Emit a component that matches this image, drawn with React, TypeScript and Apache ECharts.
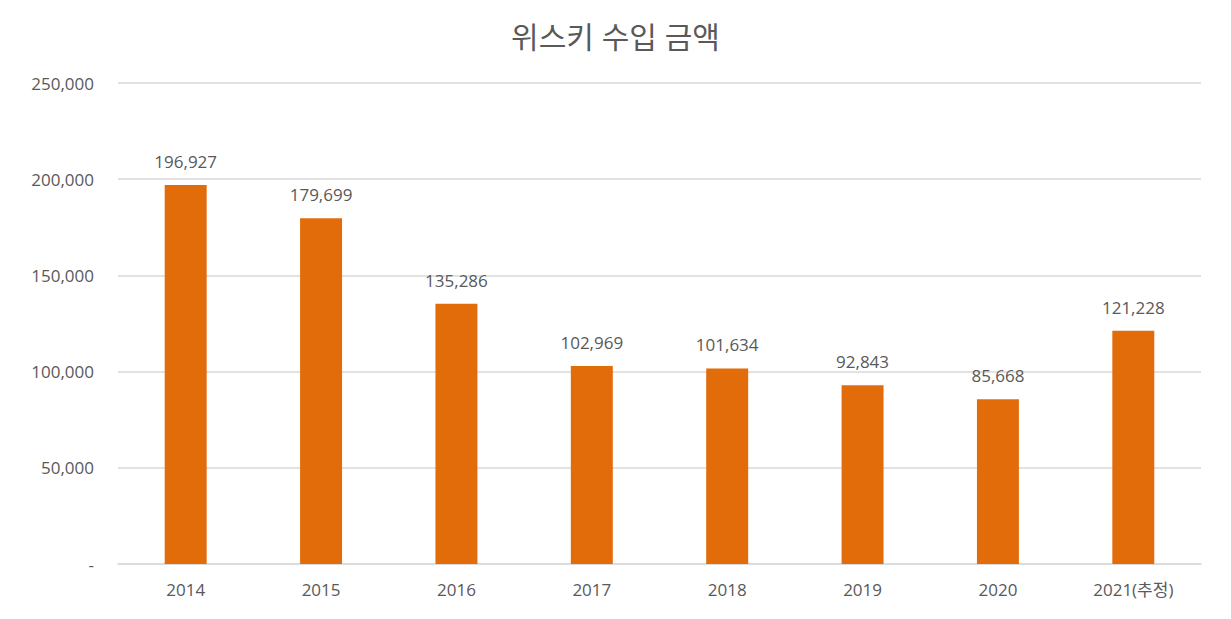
import { useEffect, useRef } from "react";
import * as echarts from "echarts";

const categories = ["2014", "2015", "2016", "2017", "2018", "2019", "2020", "2021(추정)"];
const importValues = [196927, 179699, 135286, 102969, 101634, 92843, 85668, 121228];

const FONT = "'Open Sans', 'Noto Sans CJK KR', sans-serif";
const TEXT = "#595959";

const fmt = (v: number) => (v === 0 ? "-" : v.toLocaleString("en-US"));

export default function App() {
  const ref = useRef<HTMLDivElement | null>(null);

  useEffect(() => {
    if (!ref.current) {
      return;
    }
    const chart = echarts.init(ref.current, undefined, { renderer: "svg" });

    chart.setOption({
      animation: false,
      backgroundColor: "#ffffff",
      title: {
        text: "위스키 수입 금액",
        left: "center",
        top: 16,
        textStyle: {
          color: TEXT,
          fontFamily: FONT,
          fontSize: 30,
          fontWeight: "normal"
        }
      },
      grid: {
        left: 118,
        right: 30,
        top: 83,
        bottom: 55
      },
      xAxis: {
        type: "category",
        data: categories,
        axisLine: { lineStyle: { color: "#d9d9d9", width: 1.5 } },
        axisTick: { show: false },
        axisLabel: {
          color: TEXT,
          fontFamily: FONT,
          fontSize: 17,
          margin: 17
        }
      },
      yAxis: {
        type: "value",
        min: 0,
        max: 250000,
        interval: 50000,
        axisLine: { show: false },
        axisTick: { show: false },
        axisLabel: {
          color: TEXT,
          fontFamily: FONT,
          fontSize: 17,
          margin: 24,
          formatter: (v: number) => fmt(v)
        },
        splitLine: { lineStyle: { color: "#d9d9d9", width: 1.5 } }
      },
      series: [
        {
          type: "bar",
          data: importValues,
          barWidth: "31%",
          itemStyle: { color: "#e36c0a" },
          label: {
            show: true,
            position: "top",
            distance: 15,
            color: TEXT,
            fontFamily: FONT,
            fontSize: 17,
            formatter: (p: { value: number }) => fmt(p.value)
          }
        }
      ]
    });

    return () => {
      chart.dispose();
    };
  }, []);

  return (
    <div
      ref={ref}
      style={{ position: "absolute", left: 0, top: 0, width: 1231, height: 619 }}
    />
  );
}
